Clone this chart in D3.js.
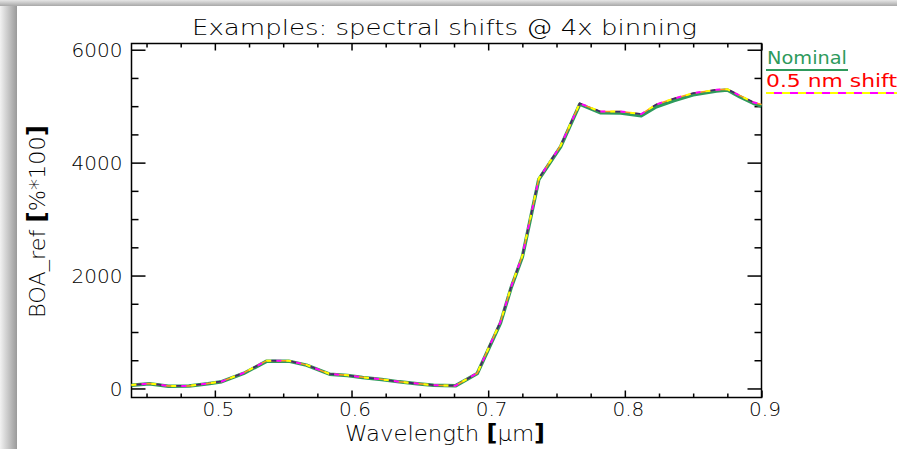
<!DOCTYPE html>
<html>
<head>
<meta charset="utf-8">
<script src="https://cdn.jsdelivr.net/npm/d3@7"></script>
<style>
  html, body { margin: 0; padding: 0; background: #fff; }
  svg { display: block; }
  text { font-family: "DejaVu Sans", sans-serif; font-weight: 200; fill: #000; }
</style>
</head>
<body>
<svg id="chart" width="897" height="449"></svg>
<script>
// Wavelength samples [µm] and bottom-of-atmosphere reflectance [% * 100]
const wavelength = [0.439, 0.452, 0.466, 0.481, 0.495, 0.505, 0.521, 0.538, 0.554, 0.567,
  0.584, 0.597, 0.608, 0.622, 0.635, 0.648, 0.660, 0.676, 0.692, 0.709,
  0.717, 0.725, 0.737, 0.753, 0.767, 0.782, 0.797, 0.812, 0.823, 0.836,
  0.850, 0.867, 0.875, 0.884, 0.894, 0.900];
const nominal = [55, 85, 40, 45, 85, 120, 266, 484, 484, 413,
  253, 230, 195, 160, 117, 85, 58, 46, 265, 1160,
  1800, 2330, 3700, 4280, 5034, 4885, 4880, 4830, 4990, 5100,
  5200, 5270, 5287, 5168, 5051, 5003];
const shifted = [60, 90, 45, 45, 90, 125, 275, 492, 490, 418,
  258, 232, 198, 162, 118, 86, 58, 48, 272, 1180,
  1815, 2350, 3715, 4300, 5050, 4905, 4905, 4860, 5030, 5135,
  5230, 5290, 5300, 5190, 5070, 5030];

const xMajor = [0.5, 0.6, 0.7, 0.8, 0.9];
const xMinor = [0.45, 0.475, 0.525, 0.55, 0.575, 0.625, 0.65, 0.675, 0.725, 0.75, 0.775, 0.825, 0.85, 0.875];
const yMajor = [0, 2000, 4000, 6000];
const yMinor = [500, 1000, 1500, 2500, 3000, 3500, 4500, 5000, 5500];

const titleText = "Examples: spectral shifts @ 4x binning";
const legendLabels = ["Nominal", "0.5 nm shift"];

const svg = d3.select("#chart");

// window frame shading along the left and top edges
const defs = svg.append("defs");
const gl = defs.append("linearGradient").attr("id", "edgeL").attr("x1", 0).attr("x2", 1).attr("y1", 0).attr("y2", 0);
gl.append("stop").attr("offset", "0%").attr("stop-color", "#f2f2f2");
gl.append("stop").attr("offset", "100%").attr("stop-color", "#9a9a9a");
const gt = defs.append("linearGradient").attr("id", "edgeT").attr("x1", 0).attr("x2", 0).attr("y1", 0).attr("y2", 1);
gt.append("stop").attr("offset", "0%").attr("stop-color", "#e6e6e6");
gt.append("stop").attr("offset", "100%").attr("stop-color", "#a8a8a8");
svg.append("rect").attr("x", 0).attr("y", 0).attr("width", 897).attr("height", 6).attr("fill", "url(#edgeT)");
svg.append("rect").attr("x", 0).attr("y", 6).attr("width", 17).attr("height", 443).attr("fill", "url(#edgeL)");

const plotL = 131.5, plotR = 761.5, plotT = 43.5, plotB = 397.5;
const x = d3.scaleLinear().domain([0.439, 0.9]).range([plotL, plotR]);
const y = d3.scaleLinear().domain([-160, 6110]).range([plotB, plotT]);

const fmtX = d3.format(".1f");

// axes: bottom/left carry labels, top/right mirror the ticks
function styleAxis(g) {
  g.select(".domain").remove();
  g.selectAll(".tick line").attr("stroke", "#000").attr("stroke-width", 1.5);
}
function styleLabels(g) {
  g.selectAll("text").attr("font-size", 20).attr("font-family", "DejaVu Sans").attr("font-weight", 200).attr("fill", "#000");
}

svg.append("g").attr("transform", `translate(0,${plotB})`)
  .call(d3.axisBottom(x).tickValues(xMajor).tickFormat(fmtX).tickSizeInner(-7).tickSizeOuter(0).tickPadding(4))
  .call(styleAxis).call(styleLabels)
  .call(g => g.selectAll("text").attr("dx", "0.15em"));
svg.append("g").attr("transform", `translate(0,${plotB})`)
  .call(d3.axisBottom(x).tickValues(xMinor).tickFormat("").tickSizeInner(-4).tickSizeOuter(0))
  .call(styleAxis);
svg.append("g").attr("transform", `translate(0,${plotT})`)
  .call(d3.axisTop(x).tickValues(xMajor).tickFormat("").tickSizeInner(-7).tickSizeOuter(0))
  .call(styleAxis);
svg.append("g").attr("transform", `translate(0,${plotT})`)
  .call(d3.axisTop(x).tickValues(xMinor).tickFormat("").tickSizeInner(-4).tickSizeOuter(0))
  .call(styleAxis);

svg.append("g").attr("transform", `translate(${plotL},0)`)
  .call(d3.axisLeft(y).tickValues(yMajor).tickFormat(d3.format("d")).tickSizeInner(-14).tickSizeOuter(0).tickPadding(9))
  .call(styleAxis).call(styleLabels)
  .call(g => g.selectAll("text").attr("dy", "0.36em"));
svg.append("g").attr("transform", `translate(${plotL},0)`)
  .call(d3.axisLeft(y).tickValues(yMinor).tickFormat("").tickSizeInner(-7).tickSizeOuter(0))
  .call(styleAxis);
svg.append("g").attr("transform", `translate(${plotR},0)`)
  .call(d3.axisRight(y).tickValues(yMajor).tickFormat("").tickSizeInner(-14).tickSizeOuter(0))
  .call(styleAxis);
svg.append("g").attr("transform", `translate(${plotR},0)`)
  .call(d3.axisRight(y).tickValues(yMinor).tickFormat("").tickSizeInner(-7).tickSizeOuter(0))
  .call(styleAxis);

// plot frame
svg.append("rect").attr("x", plotL).attr("y", plotT).attr("width", plotR - plotL).attr("height", plotB - plotT)
  .attr("fill", "none").attr("stroke", "#000").attr("stroke-width", 1.5);

// spectra
const line = d3.line().x((d, i) => x(wavelength[i])).y(d => y(d));
const green = "#2e9a5c";
svg.append("path").datum(nominal).attr("d", line)
  .attr("fill", "none").attr("stroke", green).attr("stroke-width", 3.5).attr("stroke-linejoin", "round");
svg.append("path").datum(shifted).attr("d", line)
  .attr("fill", "none").attr("stroke", "#ff9a20").attr("stroke-width", 1.5);
svg.append("path").datum(shifted).attr("d", line)
  .attr("fill", "none").attr("stroke", "#ffff00").attr("stroke-width", 2).attr("stroke-dasharray", "5 15");
svg.append("path").datum(shifted).attr("d", line)
  .attr("fill", "none").attr("stroke", "#ff00ff").attr("stroke-width", 2).attr("stroke-dasharray", "5 15").attr("stroke-dashoffset", 10);
svg.append("path").datum(shifted).attr("d", line)
  .attr("fill", "none").attr("stroke", "#3a2a70").attr("stroke-width", 1.8).attr("stroke-dasharray", "5 15").attr("stroke-dashoffset", 15);

// title
svg.append("text").attr("x", 192).attr("y", 35).attr("font-size", 22)
  .attr("textLength", 505).attr("lengthAdjust", "spacingAndGlyphs").text(titleText);

// axis titles
const xt = svg.append("text").attr("x", 345).attr("y", 441).attr("font-size", 22)
  .attr("textLength", 200).attr("lengthAdjust", "spacingAndGlyphs");
xt.append("tspan").text("Wavelength ");
xt.append("tspan").attr("font-weight", "bold").attr("font-size", 23).text("[");
xt.append("tspan").text("µm");
xt.append("tspan").attr("font-weight", "bold").attr("font-size", 23).text("]");

const yt = svg.append("text").attr("transform", "translate(45,318) rotate(-90)").attr("font-size", 22)
  .attr("textLength", 193).attr("lengthAdjust", "spacingAndGlyphs");
yt.append("tspan").text("BOA_ref ");
yt.append("tspan").attr("font-weight", "bold").attr("font-size", 24).text("[");
yt.append("tspan").text("%*100");
yt.append("tspan").attr("font-weight", "bold").attr("font-size", 24).text("]");

// legend
svg.append("text").attr("x", 767).attr("y", 64).attr("font-size", 17).style("font-weight", 400)
  .style("fill", green).attr("textLength", 80).attr("lengthAdjust", "spacingAndGlyphs").text(legendLabels[0]);
svg.append("line").attr("x1", 766).attr("x2", 848).attr("y1", 70).attr("y2", 70)
  .attr("stroke", green).attr("stroke-width", 2);
svg.append("text").attr("x", 766).attr("y", 87).attr("font-size", 17).style("font-weight", 400)
  .style("fill", "#ff0000").attr("textLength", 131).attr("lengthAdjust", "spacingAndGlyphs").text(legendLabels[1]);
svg.append("line").attr("x1", 766).attr("x2", 897).attr("y1", 93).attr("y2", 93)
  .attr("stroke", "#ffff00").attr("stroke-width", 2).attr("stroke-dasharray", "8 8");
svg.append("line").attr("x1", 766).attr("x2", 897).attr("y1", 93).attr("y2", 93)
  .attr("stroke", "#ff00ff").attr("stroke-width", 2).attr("stroke-dasharray", "8 8").attr("stroke-dashoffset", 8);
</script>
</body>
</html>
